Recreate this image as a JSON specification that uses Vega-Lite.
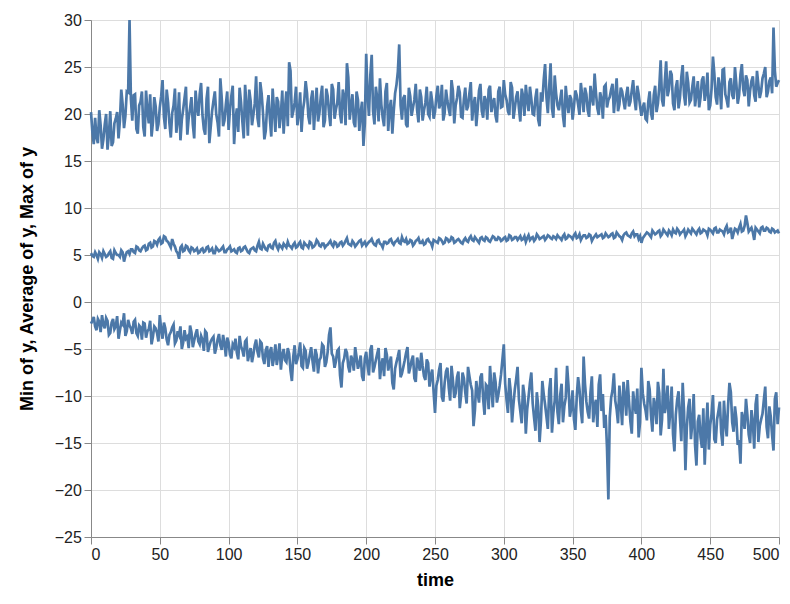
{
"$schema": "https://vega.github.io/schema/vega-lite/v6.json",
"width": 688, "height": 517,
"autosize": {"type": "none"},
"padding": {"left": 91, "top": 20, "right": 11, "bottom": 67},
"config": {"font": "Liberation Sans", "axis": {"labelFontSize": 16, "titleFontSize": 18, "tickSize": 7, "labelPadding": 2.6, "labelColor": "#222"}},
"data": {"values": [
{"time":0,"min":-2.3,"mean":5.2,"max":20.2},{"time":2,"min":-1.6,"mean":4.8,"max":16.8},{"time":4,"min":-3.0,"mean":5.0,"max":17.5},{"time":6,"min":-2.1,"mean":5.3,"max":20.4},{"time":8,"min":-1.4,"mean":4.7,"max":16.3},
{"time":10,"min":-2.8,"mean":5.1,"max":18.9},{"time":12,"min":-2.0,"mean":4.9,"max":16.2},{"time":14,"min":-3.3,"mean":5.4,"max":20.3},{"time":16,"min":-1.8,"mean":4.6,"max":17.0},{"time":18,"min":-2.6,"mean":5.2,"max":19.5},
{"time":20,"min":-3.9,"mean":5.0,"max":17.4},{"time":22,"min":-2.2,"mean":5.5,"max":22.6},{"time":24,"min":-1.2,"mean":4.3,"max":18.5},{"time":26,"min":-3.1,"mean":5.3,"max":22.4},{"time":28,"min":-2.5,"mean":5.1,"max":30.0},
{"time":30,"min":-3.4,"mean":5.6,"max":19.3},{"time":32,"min":-1.9,"mean":5.2,"max":22.1},{"time":34,"min":-3.6,"mean":5.8,"max":17.9},{"time":36,"min":-2.7,"mean":5.4,"max":21.3},{"time":38,"min":-2.2,"mean":5.9,"max":18.6},
{"time":40,"min":-3.8,"mean":5.5,"max":22.5},{"time":42,"min":-2.9,"mean":6.2,"max":19.0},{"time":44,"min":-4.5,"mean":5.8,"max":17.6},{"time":46,"min":-2.6,"mean":6.5,"max":21.8},{"time":48,"min":-3.3,"mean":6.1,"max":18.2},
{"time":50,"min":-1.4,"mean":6.8,"max":20.7},{"time":52,"min":-3.9,"mean":6.3,"max":23.6},{"time":54,"min":-2.8,"mean":6.9,"max":18.4},{"time":56,"min":-4.6,"mean":6.4,"max":21.2},{"time":58,"min":-3.2,"mean":5.8,"max":17.5},
{"time":60,"min":-2.4,"mean":6.2,"max":20.9},{"time":62,"min":-4.1,"mean":5.4,"max":18.0},{"time":64,"min":-3.5,"mean":4.6,"max":22.3},{"time":66,"min":-5.0,"mean":6.0,"max":19.4},{"time":68,"min":-3.0,"mean":5.5,"max":21.7},
{"time":70,"min":-3.7,"mean":5.9,"max":17.8},{"time":72,"min":-2.5,"mean":5.3,"max":20.6},{"time":74,"min":-4.8,"mean":5.7,"max":18.9},{"time":76,"min":-3.4,"mean":5.5,"max":22.5},{"time":78,"min":-4.2,"mean":5.2,"max":19.8},
{"time":80,"min":-3.6,"mean":5.6,"max":23.3},{"time":82,"min":-5.2,"mean":5.3,"max":18.4},{"time":84,"min":-3.3,"mean":5.8,"max":21.6},{"time":86,"min":-4.7,"mean":5.4,"max":16.9},{"time":88,"min":-3.9,"mean":5.7,"max":20.3},
{"time":90,"min":-5.5,"mean":5.2,"max":22.4},{"time":92,"min":-4.0,"mean":5.6,"max":19.1},{"time":94,"min":-4.6,"mean":5.5,"max":23.8},{"time":96,"min":-3.5,"mean":5.9,"max":18.7},{"time":98,"min":-5.8,"mean":5.3,"max":21.0},
{"time":100,"min":-4.3,"mean":5.7,"max":18.3},{"time":102,"min":-6.0,"mean":5.4,"max":21.9},{"time":104,"min":-4.8,"mean":5.6,"max":16.8},{"time":106,"min":-5.4,"mean":5.2,"max":20.6},{"time":108,"min":-3.6,"mean":5.8,"max":22.8},
{"time":110,"min":-5.1,"mean":5.5,"max":19.2},{"time":112,"min":-4.2,"mean":5.9,"max":23.1},{"time":114,"min":-6.3,"mean":5.3,"max":17.7},{"time":116,"min":-4.9,"mean":5.6,"max":21.4},{"time":118,"min":-5.6,"mean":5.8,"max":19.9},
{"time":120,"min":-4.0,"mean":5.4,"max":24.0},{"time":122,"min":-5.9,"mean":6.4,"max":18.6},{"time":124,"min":-4.4,"mean":5.6,"max":22.2},{"time":126,"min":-6.6,"mean":5.9,"max":17.3},{"time":128,"min":-4.7,"mean":5.5,"max":20.8},
{"time":130,"min":-5.3,"mean":6.1,"max":19.5},{"time":132,"min":-6.8,"mean":5.7,"max":22.7},{"time":134,"min":-4.5,"mean":6.5,"max":18.1},{"time":136,"min":-5.7,"mean":5.6,"max":21.3},{"time":138,"min":-7.2,"mean":5.9,"max":20.0},
{"time":140,"min":-5.0,"mean":6.2,"max":17.9},{"time":142,"min":-6.4,"mean":5.8,"max":22.4},{"time":144,"min":-5.5,"mean":6.0,"max":25.5},{"time":146,"min":-8.4,"mean":5.7,"max":19.6},{"time":148,"min":-4.6,"mean":6.3,"max":21.2},
{"time":150,"min":-6.1,"mean":5.9,"max":18.8},{"time":152,"min":-4.3,"mean":6.4,"max":22.3},{"time":154,"min":-7.0,"mean":5.7,"max":20.4},{"time":156,"min":-5.2,"mean":6.1,"max":23.5},{"time":158,"min":-6.5,"mean":5.8,"max":19.7},
{"time":160,"min":-4.8,"mean":6.3,"max":21.6},{"time":162,"min":-7.4,"mean":5.9,"max":18.3},{"time":164,"min":-5.6,"mean":6.6,"max":22.8},{"time":166,"min":-6.2,"mean":6.0,"max":20.1},{"time":168,"min":-4.5,"mean":6.2,"max":23.0},
{"time":170,"min":-6.9,"mean":5.8,"max":19.3},{"time":172,"min":-5.3,"mean":6.1,"max":21.9},{"time":174,"min":-2.7,"mean":6.5,"max":18.7},{"time":176,"min":-5.8,"mean":5.9,"max":22.6},{"time":178,"min":-6.3,"mean":6.3,"max":20.5},
{"time":180,"min":-5.0,"mean":6.0,"max":23.4},{"time":182,"min":-9.1,"mean":6.4,"max":19.0},{"time":184,"min":-6.0,"mean":6.2,"max":21.8},{"time":186,"min":-5.4,"mean":6.8,"max":25.4},{"time":188,"min":-7.5,"mean":6.1,"max":19.4},
{"time":190,"min":-6.2,"mean":6.5,"max":22.1},{"time":192,"min":-4.8,"mean":5.9,"max":18.6},{"time":194,"min":-7.1,"mean":6.3,"max":21.5},{"time":196,"min":-5.7,"mean":6.6,"max":20.2},{"time":198,"min":-8.4,"mean":6.2,"max":16.6},
{"time":200,"min":-5.3,"mean":6.0,"max":26.4},{"time":202,"min":-7.8,"mean":6.4,"max":19.8},{"time":204,"min":-4.6,"mean":6.7,"max":26.3},{"time":206,"min":-6.9,"mean":6.1,"max":18.9},{"time":208,"min":-5.5,"mean":6.5,"max":21.7},
{"time":210,"min":-8.2,"mean":6.2,"max":23.8},{"time":212,"min":-6.0,"mean":5.8,"max":19.6},{"time":214,"min":-4.9,"mean":6.4,"max":22.4},{"time":216,"min":-7.3,"mean":6.3,"max":18.2},{"time":218,"min":-5.8,"mean":6.7,"max":21.5},
{"time":220,"min":-9.3,"mean":6.1,"max":20.3},{"time":222,"min":-6.4,"mean":6.5,"max":23.1},{"time":224,"min":-5.1,"mean":6.3,"max":27.4},{"time":226,"min":-7.6,"mean":6.9,"max":19.4},{"time":228,"min":-6.2,"mean":6.4,"max":22.0},
{"time":230,"min":-4.8,"mean":6.2,"max":18.6},{"time":232,"min":-7.0,"mean":6.6,"max":21.9},{"time":234,"min":-5.7,"mean":6.0,"max":20.7},{"time":236,"min":-8.5,"mean":6.5,"max":23.2},{"time":238,"min":-6.6,"mean":6.8,"max":19.1},
{"time":240,"min":-5.4,"mean":6.3,"max":21.8},{"time":242,"min":-7.9,"mean":6.1,"max":20.4},{"time":244,"min":-6.1,"mean":6.6,"max":22.9},{"time":246,"min":-9.0,"mean":6.4,"max":19.7},{"time":248,"min":-7.2,"mean":5.9,"max":21.3},
{"time":250,"min":-11.8,"mean":6.5,"max":20.2},{"time":252,"min":-8.3,"mean":6.3,"max":23.0},{"time":254,"min":-6.5,"mean":6.7,"max":21.1},{"time":256,"min":-10.6,"mean":6.2,"max":19.3},{"time":258,"min":-7.4,"mean":6.8,"max":22.6},
{"time":260,"min":-9.1,"mean":6.4,"max":20.5},{"time":262,"min":-6.8,"mean":6.9,"max":23.6},{"time":264,"min":-10.2,"mean":6.3,"max":19.0},{"time":266,"min":-8.0,"mean":6.6,"max":21.7},{"time":268,"min":-11.3,"mean":6.5,"max":22.3},
{"time":270,"min":-7.5,"mean":6.2,"max":19.6},{"time":272,"min":-9.6,"mean":6.8,"max":22.8},{"time":274,"min":-6.9,"mean":6.4,"max":20.8},{"time":276,"min":-8.8,"mean":7.0,"max":23.4},{"time":278,"min":-13.2,"mean":6.5,"max":21.0},
{"time":280,"min":-8.4,"mean":6.7,"max":18.7},{"time":282,"min":-10.7,"mean":6.3,"max":22.5},{"time":284,"min":-7.6,"mean":6.9,"max":20.3},{"time":286,"min":-12.0,"mean":6.5,"max":21.9},{"time":288,"min":-9.0,"mean":6.8,"max":19.4},
{"time":290,"min":-6.8,"mean":6.4,"max":23.0},{"time":292,"min":-11.2,"mean":7.0,"max":21.2},{"time":294,"min":-8.5,"mean":6.6,"max":19.8},{"time":296,"min":-9.9,"mean":6.9,"max":22.4},{"time":298,"min":-7.7,"mean":6.5,"max":20.7},
{"time":300,"min":-4.5,"mean":6.8,"max":23.6},{"time":302,"min":-10.4,"mean":6.5,"max":21.5},{"time":304,"min":-8.1,"mean":7.1,"max":19.9},{"time":306,"min":-12.8,"mean":6.6,"max":22.8},{"time":308,"min":-9.3,"mean":6.9,"max":20.6},
{"time":310,"min":-6.9,"mean":6.6,"max":22.4},{"time":312,"min":-11.6,"mean":7.0,"max":19.2},{"time":314,"min":-8.8,"mean":6.7,"max":21.9},{"time":316,"min":-14.0,"mean":6.4,"max":23.1},{"time":318,"min":-10.1,"mean":7.1,"max":20.3},
{"time":320,"min":-7.5,"mean":6.8,"max":21.6},{"time":322,"min":-12.3,"mean":6.5,"max":19.9},{"time":324,"min":-9.6,"mean":7.2,"max":22.7},{"time":326,"min":-14.9,"mean":6.7,"max":18.7},{"time":328,"min":-8.4,"mean":6.9,"max":21.3},
{"time":330,"min":-10.9,"mean":6.6,"max":25.3},{"time":332,"min":-13.5,"mean":7.1,"max":20.1},{"time":334,"min":-8.1,"mean":6.8,"max":25.4},{"time":336,"min":-11.8,"mean":7.0,"max":19.6},{"time":338,"min":-7.0,"mean":6.7,"max":22.2},
{"time":340,"min":-13.0,"mean":6.9,"max":20.4},{"time":342,"min":-8.7,"mean":6.6,"max":22.6},{"time":344,"min":-11.1,"mean":7.2,"max":18.6},{"time":346,"min":-6.8,"mean":6.8,"max":21.3},{"time":348,"min":-12.2,"mean":7.0,"max":22.0},
{"time":350,"min":-9.4,"mean":6.7,"max":19.4},{"time":352,"min":-13.6,"mean":7.3,"max":22.5},{"time":354,"min":-8.0,"mean":6.9,"max":21.0},{"time":356,"min":-11.5,"mean":6.6,"max":23.3},{"time":358,"min":-5.8,"mean":7.1,"max":20.2},
{"time":360,"min":-10.6,"mean":6.8,"max":22.1},{"time":362,"min":-12.4,"mean":7.2,"max":19.7},{"time":364,"min":-7.9,"mean":6.5,"max":21.8},{"time":366,"min":-11.0,"mean":7.0,"max":24.3},{"time":368,"min":-13.3,"mean":6.9,"max":20.6},
{"time":370,"min":-7.7,"mean":7.1,"max":22.3},{"time":372,"min":-9.8,"mean":6.8,"max":19.5},{"time":374,"min":-12.0,"mean":7.3,"max":23.1},{"time":376,"min":-21.0,"mean":6.9,"max":21.5},{"time":378,"min":-10.2,"mean":7.2,"max":22.6},
{"time":380,"min":-7.6,"mean":6.8,"max":20.1},{"time":382,"min":-11.4,"mean":7.4,"max":23.8},{"time":384,"min":-8.9,"mean":7.0,"max":21.0},{"time":386,"min":-13.1,"mean":6.6,"max":22.4},{"time":388,"min":-10.0,"mean":7.3,"max":20.5},
{"time":390,"min":-8.3,"mean":7.1,"max":22.9},{"time":392,"min":-12.7,"mean":6.9,"max":21.3},{"time":394,"min":-9.5,"mean":7.5,"max":23.6},{"time":396,"min":-11.9,"mean":7.2,"max":20.4},{"time":398,"min":-14.4,"mean":6.7,"max":22.1},
{"time":400,"min":-7.0,"mean":6.3,"max":19.8},{"time":402,"min":-10.8,"mean":7.0,"max":21.2},{"time":404,"min":-12.6,"mean":7.4,"max":19.3},{"time":406,"min":-9.3,"mean":7.1,"max":22.4},{"time":408,"min":-13.8,"mean":7.6,"max":19.4},
{"time":410,"min":-11.0,"mean":7.2,"max":23.0},{"time":412,"min":-8.5,"mean":7.5,"max":21.1},{"time":414,"min":-14.2,"mean":7.0,"max":25.7},{"time":416,"min":-7.1,"mean":7.7,"max":20.8},{"time":418,"min":-10.9,"mean":7.3,"max":25.6},
{"time":420,"min":-13.5,"mean":7.6,"max":22.6},{"time":422,"min":-9.0,"mean":7.1,"max":24.2},{"time":424,"min":-15.9,"mean":7.4,"max":20.4},{"time":426,"min":-10.4,"mean":7.8,"max":23.6},{"time":428,"min":-12.3,"mean":7.2,"max":21.7},
{"time":430,"min":-8.6,"mean":7.5,"max":25.2},{"time":432,"min":-17.9,"mean":7.0,"max":20.9},{"time":434,"min":-11.2,"mean":7.7,"max":23.3},{"time":436,"min":-14.6,"mean":7.3,"max":21.5},{"time":438,"min":-9.8,"mean":7.6,"max":24.0},
{"time":440,"min":-17.4,"mean":7.2,"max":22.2},{"time":442,"min":-12.0,"mean":7.8,"max":20.7},{"time":444,"min":-15.5,"mean":7.4,"max":23.6},{"time":446,"min":-17.3,"mean":7.6,"max":21.4},{"time":448,"min":-10.7,"mean":7.1,"max":24.4},
{"time":450,"min":-13.1,"mean":7.7,"max":20.9},{"time":452,"min":-9.9,"mean":7.3,"max":26.1},{"time":454,"min":-15.0,"mean":7.9,"max":21.8},{"time":456,"min":-11.6,"mean":7.4,"max":23.9},{"time":458,"min":-13.9,"mean":7.6,"max":20.5},
{"time":460,"min":-10.5,"mean":7.2,"max":24.8},{"time":462,"min":-14.3,"mean":8.1,"max":21.5},{"time":464,"min":-8.6,"mean":7.5,"max":23.4},{"time":466,"min":-12.8,"mean":6.7,"max":22.0},{"time":468,"min":-11.1,"mean":7.8,"max":25.0},
{"time":470,"min":-15.2,"mean":7.4,"max":21.1},{"time":472,"min":-17.2,"mean":8.3,"max":24.2},{"time":474,"min":-12.4,"mean":7.6,"max":22.6},{"time":476,"min":-10.3,"mean":9.2,"max":24.1},{"time":478,"min":-14.1,"mean":7.5,"max":20.8},
{"time":480,"min":-11.5,"mean":7.9,"max":23.5},{"time":482,"min":-15.6,"mean":6.6,"max":22.0},{"time":484,"min":-9.8,"mean":7.7,"max":24.6},{"time":486,"min":-13.2,"mean":7.3,"max":21.7},{"time":488,"min":-11.9,"mean":8.0,"max":23.8},
{"time":490,"min":-9.0,"mean":7.6,"max":25.0},{"time":492,"min":-14.5,"mean":7.8,"max":22.4},{"time":494,"min":-12.2,"mean":7.4,"max":23.9},{"time":496,"min":-15.8,"mean":7.7,"max":29.2},{"time":498,"min":-9.6,"mean":7.5,"max":22.9},
{"time":500,"min":-11.2,"mean":7.3,"max":23.6},
{"time":1,"min":-2.0,"mean":4.9,"max":18.1},{"time":3,"min":-2.6,"mean":5.3,"max":19.6},{"time":5,"min":-1.8,"mean":4.6,"max":16.9},{"time":7,"min":-3.2,"mean":5.1,"max":18.8},{"time":9,"min":-2.4,"mean":5.4,"max":17.3},
{"time":11,"min":-1.7,"mean":4.8,"max":20.0},{"time":13,"min":-3.5,"mean":5.2,"max":17.8},{"time":15,"min":-2.2,"mean":4.7,"max":16.6},{"time":17,"min":-2.9,"mean":5.5,"max":19.0},{"time":19,"min":-1.5,"mean":5.0,"max":20.2},
{"time":21,"min":-3.0,"mean":4.8,"max":19.3},{"time":23,"min":-2.4,"mean":5.3,"max":21.0},{"time":25,"min":-3.6,"mean":4.9,"max":19.8},{"time":27,"min":-1.9,"mean":5.4,"max":22.3},{"time":29,"min":-2.8,"mean":5.6,"max":21.6},
{"time":31,"min":-2.1,"mean":5.3,"max":22.0},{"time":33,"min":-3.3,"mean":5.9,"max":18.4},{"time":35,"min":-2.5,"mean":5.5,"max":20.9},{"time":37,"min":-4.0,"mean":5.7,"max":22.4},{"time":39,"min":-2.3,"mean":6.0,"max":17.6},
{"time":41,"min":-3.1,"mean":5.6,"max":20.3},{"time":43,"min":-2.0,"mean":6.3,"max":22.1},{"time":45,"min":-3.7,"mean":5.9,"max":19.1},{"time":47,"min":-2.8,"mean":6.4,"max":20.8},{"time":49,"min":-4.2,"mean":6.6,"max":18.9},
{"time":51,"min":-3.0,"mean":6.2,"max":21.9},{"time":53,"min":-2.2,"mean":7.0,"max":19.7},{"time":55,"min":-4.0,"mean":6.5,"max":22.6},{"time":57,"min":-3.5,"mean":6.1,"max":19.0},{"time":59,"min":-2.7,"mean":6.7,"max":20.1},
{"time":61,"min":-4.4,"mean":5.9,"max":22.7},{"time":63,"min":-3.1,"mean":5.2,"max":19.3},{"time":65,"min":-2.6,"mean":5.8,"max":17.2},{"time":67,"min":-4.3,"mean":5.4,"max":20.5},{"time":69,"min":-3.9,"mean":6.0,"max":22.9},
{"time":71,"min":-4.9,"mean":5.5,"max":19.6},{"time":73,"min":-3.2,"mean":5.8,"max":21.8},{"time":75,"min":-4.1,"mean":5.4,"max":17.4},{"time":77,"min":-2.9,"mean":5.7,"max":20.7},{"time":79,"min":-4.5,"mean":5.3,"max":22.1},
{"time":81,"min":-4.0,"mean":5.7,"max":19.9},{"time":83,"min":-3.1,"mean":5.4,"max":17.8},{"time":85,"min":-5.3,"mean":5.9,"max":22.9},{"time":87,"min":-4.2,"mean":5.5,"max":18.6},{"time":89,"min":-3.7,"mean":5.2,"max":21.4},
{"time":91,"min":-4.9,"mean":5.8,"max":20.0},{"time":93,"min":-3.4,"mean":5.4,"max":17.6},{"time":95,"min":-5.1,"mean":5.7,"max":21.7},{"time":97,"min":-4.4,"mean":5.3,"max":19.3},{"time":99,"min":-3.8,"mean":5.6,"max":22.4},
{"time":101,"min":-5.6,"mean":5.9,"max":20.5},{"time":103,"min":-4.5,"mean":5.5,"max":23.0},{"time":105,"min":-3.9,"mean":5.3,"max":19.4},{"time":107,"min":-6.1,"mean":5.7,"max":18.1},{"time":109,"min":-4.7,"mean":5.4,"max":21.3},
{"time":111,"min":-5.8,"mean":5.8,"max":17.4},{"time":113,"min":-4.0,"mean":5.6,"max":20.9},{"time":115,"min":-5.5,"mean":5.2,"max":22.6},{"time":117,"min":-6.4,"mean":5.7,"max":18.8},{"time":119,"min":-4.6,"mean":5.5,"max":21.1},
{"time":121,"min":-5.3,"mean":6.0,"max":19.6},{"time":123,"min":-4.2,"mean":5.7,"max":23.4},{"time":125,"min":-6.0,"mean":6.2,"max":20.1},{"time":127,"min":-5.1,"mean":5.6,"max":18.2},{"time":129,"min":-6.9,"mean":6.0,"max":22.0},
{"time":131,"min":-4.8,"mean":5.8,"max":17.6},{"time":133,"min":-5.9,"mean":6.3,"max":20.4},{"time":135,"min":-6.7,"mean":5.9,"max":21.8},{"time":137,"min":-4.4,"mean":6.1,"max":18.5},{"time":139,"min":-5.6,"mean":5.7,"max":22.5},
{"time":141,"min":-6.2,"mean":6.0,"max":20.6},{"time":143,"min":-4.9,"mean":6.4,"max":18.7},{"time":145,"min":-7.3,"mean":5.9,"max":24.6},{"time":147,"min":-5.8,"mean":6.1,"max":20.3},{"time":149,"min":-6.6,"mean":5.8,"max":22.9},
{"time":151,"min":-5.4,"mean":6.2,"max":20.0},{"time":153,"min":-6.8,"mean":5.8,"max":18.1},{"time":155,"min":-4.9,"mean":6.3,"max":21.4},{"time":157,"min":-7.1,"mean":6.0,"max":22.2},{"time":159,"min":-5.6,"mean":6.4,"max":18.9},
{"time":161,"min":-6.3,"mean":5.8,"max":22.5},{"time":163,"min":-5.0,"mean":6.1,"max":20.7},{"time":165,"min":-7.6,"mean":6.4,"max":19.2},{"time":167,"min":-5.9,"mean":5.9,"max":21.9},{"time":169,"min":-4.7,"mean":6.2,"max":18.6},
{"time":171,"min":-6.4,"mean":6.0,"max":22.7},{"time":173,"min":-3.5,"mean":6.3,"max":20.1},{"time":175,"min":-5.5,"mean":6.1,"max":23.2},{"time":177,"min":-7.0,"mean":6.4,"max":19.5},{"time":179,"min":-5.2,"mean":5.9,"max":21.2},
{"time":181,"min":-7.8,"mean":6.3,"max":20.0},{"time":183,"min":-6.5,"mean":6.0,"max":22.6},{"time":185,"min":-5.0,"mean":6.5,"max":18.8},{"time":187,"min":-6.9,"mean":6.2,"max":23.9},{"time":189,"min":-5.7,"mean":6.0,"max":20.8},
{"time":191,"min":-7.3,"mean":6.3,"max":19.1},{"time":193,"min":-5.9,"mean":6.1,"max":22.4},{"time":195,"min":-6.6,"mean":6.5,"max":18.2},{"time":197,"min":-7.9,"mean":6.0,"max":21.3},{"time":199,"min":-6.0,"mean":6.4,"max":19.0},
{"time":201,"min":-6.8,"mean":6.2,"max":22.0},{"time":203,"min":-5.1,"mean":6.5,"max":24.1},{"time":205,"min":-7.5,"mean":6.3,"max":20.3},{"time":207,"min":-6.2,"mean":6.0,"max":22.9},{"time":209,"min":-4.9,"mean":6.6,"max":19.2},
{"time":211,"min":-6.7,"mean":6.1,"max":21.0},{"time":213,"min":-7.9,"mean":6.4,"max":18.7},{"time":215,"min":-5.6,"mean":6.2,"max":23.3},{"time":217,"min":-6.5,"mean":6.6,"max":20.6},{"time":219,"min":-8.6,"mean":6.3,"max":17.9},
{"time":221,"min":-7.1,"mean":6.4,"max":22.2},{"time":223,"min":-5.8,"mean":6.7,"max":24.5},{"time":225,"min":-8.0,"mean":6.2,"max":20.9},{"time":227,"min":-6.9,"mean":6.5,"max":21.7},{"time":229,"min":-5.4,"mean":6.7,"max":18.9},
{"time":231,"min":-7.6,"mean":6.3,"max":22.8},{"time":233,"min":-6.2,"mean":6.5,"max":19.8},{"time":235,"min":-8.1,"mean":6.2,"max":21.5},{"time":237,"min":-5.9,"mean":6.6,"max":20.4},{"time":239,"min":-7.3,"mean":6.3,"max":22.6},
{"time":241,"min":-6.8,"mean":6.5,"max":19.3},{"time":243,"min":-8.3,"mean":6.2,"max":21.2},{"time":245,"min":-6.5,"mean":6.7,"max":20.0},{"time":247,"min":-7.8,"mean":6.3,"max":22.4},{"time":249,"min":-9.6,"mean":6.6,"max":19.5},
{"time":251,"min":-8.9,"mean":6.4,"max":21.9},{"time":253,"min":-7.2,"mean":6.8,"max":20.6},{"time":255,"min":-10.1,"mean":6.5,"max":23.1},{"time":257,"min":-8.6,"mean":6.3,"max":20.1},{"time":259,"min":-7.0,"mean":6.7,"max":21.4},
{"time":261,"min":-10.5,"mean":6.5,"max":19.8},{"time":263,"min":-8.3,"mean":6.8,"max":22.5},{"time":265,"min":-9.7,"mean":6.4,"max":20.9},{"time":267,"min":-7.4,"mean":6.7,"max":23.0},{"time":269,"min":-9.9,"mean":6.3,"max":19.7},
{"time":271,"min":-8.1,"mean":6.6,"max":21.6},{"time":273,"min":-10.8,"mean":6.5,"max":20.4},{"time":275,"min":-7.9,"mean":6.8,"max":22.2},{"time":277,"min":-9.4,"mean":6.6,"max":19.3},{"time":279,"min":-11.5,"mean":6.9,"max":21.8},
{"time":281,"min":-9.7,"mean":6.5,"max":20.5},{"time":283,"min":-8.0,"mean":6.8,"max":23.2},{"time":285,"min":-10.3,"mean":6.6,"max":19.6},{"time":287,"min":-8.8,"mean":6.9,"max":21.4},{"time":289,"min":-11.4,"mean":6.5,"max":22.6},
{"time":291,"min":-9.2,"mean":6.7,"max":20.2},{"time":293,"min":-7.5,"mean":6.9,"max":21.7},{"time":295,"min":-10.7,"mean":6.6,"max":19.1},{"time":297,"min":-8.9,"mean":6.8,"max":22.9},{"time":299,"min":-6.1,"mean":6.6,"max":20.8},
{"time":301,"min":-8.7,"mean":6.9,"max":22.1},{"time":303,"min":-11.8,"mean":6.6,"max":20.3},{"time":305,"min":-9.5,"mean":7.0,"max":23.4},{"time":307,"min":-10.9,"mean":6.7,"max":19.5},{"time":309,"min":-8.2,"mean":6.9,"max":21.8},
{"time":311,"min":-10.4,"mean":6.8,"max":20.6},{"time":313,"min":-12.9,"mean":6.6,"max":22.7},{"time":315,"min":-9.9,"mean":7.0,"max":19.8},{"time":317,"min":-11.4,"mean":6.8,"max":21.5},{"time":319,"min":-8.6,"mean":6.6,"max":22.9},
{"time":321,"min":-10.8,"mean":6.9,"max":20.0},{"time":323,"min":-13.7,"mean":6.7,"max":21.7},{"time":325,"min":-11.1,"mean":7.0,"max":19.4},{"time":327,"min":-12.6,"mean":6.8,"max":22.3},{"time":329,"min":-9.8,"mean":7.0,"max":23.6},
{"time":331,"min":-12.2,"mean":6.8,"max":21.8},{"time":333,"min":-9.4,"mean":7.0,"max":22.9},{"time":335,"min":-13.9,"mean":6.7,"max":20.6},{"time":337,"min":-10.5,"mean":6.9,"max":24.1},{"time":339,"min":-11.7,"mean":7.1,"max":20.9},
{"time":341,"min":-9.9,"mean":6.8,"max":21.5},{"time":343,"min":-12.8,"mean":7.0,"max":19.8},{"time":345,"min":-10.2,"mean":6.7,"max":23.0},{"time":347,"min":-8.9,"mean":7.1,"max":20.1},{"time":349,"min":-11.3,"mean":6.9,"max":21.6},
{"time":351,"min":-12.5,"mean":7.1,"max":20.8},{"time":353,"min":-10.1,"mean":6.8,"max":22.0},{"time":355,"min":-9.3,"mean":7.2,"max":19.9},{"time":357,"min":-12.9,"mean":6.9,"max":21.9},{"time":359,"min":-8.7,"mean":7.1,"max":22.8},
{"time":361,"min":-11.7,"mean":6.9,"max":20.4},{"time":363,"min":-9.6,"mean":7.1,"max":23.0},{"time":365,"min":-12.8,"mean":6.8,"max":20.9},{"time":367,"min":-10.4,"mean":7.2,"max":22.2},{"time":369,"min":-8.8,"mean":7.0,"max":19.9},
{"time":371,"min":-11.6,"mean":7.2,"max":21.6},{"time":373,"min":-13.4,"mean":6.9,"max":22.9},{"time":375,"min":-15.5,"mean":7.1,"max":20.7},{"time":377,"min":-12.3,"mean":7.0,"max":21.8},{"time":379,"min":-9.4,"mean":7.3,"max":23.2},
{"time":381,"min":-10.5,"mean":6.9,"max":21.9},{"time":383,"min":-12.9,"mean":7.2,"max":20.3},{"time":385,"min":-10.8,"mean":6.9,"max":22.8},{"time":387,"min":-8.5,"mean":7.1,"max":21.4},{"time":389,"min":-12.1,"mean":7.4,"max":22.0},
{"time":391,"min":-10.6,"mean":7.0,"max":20.8},{"time":393,"min":-14.0,"mean":7.3,"max":22.5},{"time":395,"min":-11.0,"mean":7.0,"max":21.6},{"time":397,"min":-9.2,"mean":7.2,"max":23.0},{"time":399,"min":-12.8,"mean":7.0,"max":20.9},
{"time":401,"min":-9.7,"mean":6.8,"max":20.7},{"time":403,"min":-11.5,"mean":7.2,"max":19.5},{"time":405,"min":-8.4,"mean":7.3,"max":21.3},{"time":407,"min":-12.1,"mean":6.9,"max":20.1},{"time":409,"min":-10.2,"mean":7.4,"max":22.0},
{"time":411,"min":-13.0,"mean":7.3,"max":20.2},{"time":413,"min":-9.7,"mean":7.6,"max":22.9},{"time":415,"min":-12.5,"mean":7.2,"max":21.5},{"time":417,"min":-11.8,"mean":7.5,"max":23.4},{"time":419,"min":-8.9,"mean":7.1,"max":21.9},
{"time":421,"min":-11.6,"mean":7.4,"max":24.6},{"time":423,"min":-14.1,"mean":7.7,"max":21.1},{"time":425,"min":-12.0,"mean":7.3,"max":22.8},{"time":427,"min":-9.5,"mean":7.6,"max":20.6},{"time":429,"min":-14.8,"mean":7.4,"max":23.9},
{"time":431,"min":-11.7,"mean":7.7,"max":22.0},{"time":433,"min":-13.4,"mean":7.3,"max":24.5},{"time":435,"min":-10.3,"mean":7.5,"max":21.2},{"time":437,"min":-12.9,"mean":7.8,"max":22.9},{"time":439,"min":-15.2,"mean":7.4,"max":20.8},
{"time":441,"min":-12.7,"mean":7.6,"max":23.5},{"time":443,"min":-14.4,"mean":7.3,"max":21.8},{"time":445,"min":-11.3,"mean":7.7,"max":24.0},{"time":447,"min":-13.6,"mean":7.5,"max":22.3},{"time":449,"min":-15.7,"mean":7.8,"max":20.4},
{"time":451,"min":-11.9,"mean":7.5,"max":22.7},{"time":453,"min":-14.6,"mean":7.8,"max":24.3},{"time":455,"min":-12.5,"mean":7.4,"max":21.0},{"time":457,"min":-10.6,"mean":7.7,"max":22.9},{"time":459,"min":-15.3,"mean":7.5,"max":24.7},
{"time":461,"min":-12.9,"mean":7.8,"max":22.1},{"time":463,"min":-11.0,"mean":7.4,"max":20.7},{"time":465,"min":-9.6,"mean":7.9,"max":23.8},{"time":467,"min":-13.8,"mean":7.3,"max":21.6},{"time":469,"min":-12.4,"mean":7.7,"max":23.2},
{"time":471,"min":-14.7,"mean":7.9,"max":22.0},{"time":473,"min":-11.7,"mean":7.5,"max":25.3},{"time":475,"min":-13.5,"mean":8.1,"max":21.9},{"time":477,"min":-12.0,"mean":8.4,"max":23.6},{"time":479,"min":-15.0,"mean":7.7,"max":22.5},
{"time":481,"min":-12.8,"mean":7.4,"max":24.0},{"time":483,"min":-10.9,"mean":7.9,"max":21.3},{"time":485,"min":-14.9,"mean":7.5,"max":23.1},{"time":487,"min":-12.5,"mean":7.9,"max":22.4},{"time":489,"min":-10.4,"mean":7.6,"max":24.3},
{"time":491,"min":-13.3,"mean":7.9,"max":21.8},{"time":493,"min":-11.1,"mean":7.5,"max":23.5},{"time":495,"min":-14.2,"mean":7.8,"max":22.2},{"time":497,"min":-10.3,"mean":7.4,"max":24.6},{"time":499,"min":-13.0,"mean":7.6,"max":23.3}
]},
"encoding": {
  "x": {"field": "time", "type": "quantitative", "title": "time", "axis": {"tickCount": 10, "titlePadding": 9}}
},
"layer": [
  {"mark": {"type": "line", "color": "#4c78a8", "strokeWidth": 2.7}, "encoding": {"y": {"field": "min", "type": "quantitative", "title": "Min of y, Average of y, Max of y", "axis": {"titlePadding": 18}}}},
  {"mark": {"type": "line", "color": "#4c78a8", "strokeWidth": 2.7}, "encoding": {"y": {"field": "mean", "type": "quantitative"}}},
  {"mark": {"type": "line", "color": "#4c78a8", "strokeWidth": 2.7}, "encoding": {"y": {"field": "max", "type": "quantitative"}}}
]
}
